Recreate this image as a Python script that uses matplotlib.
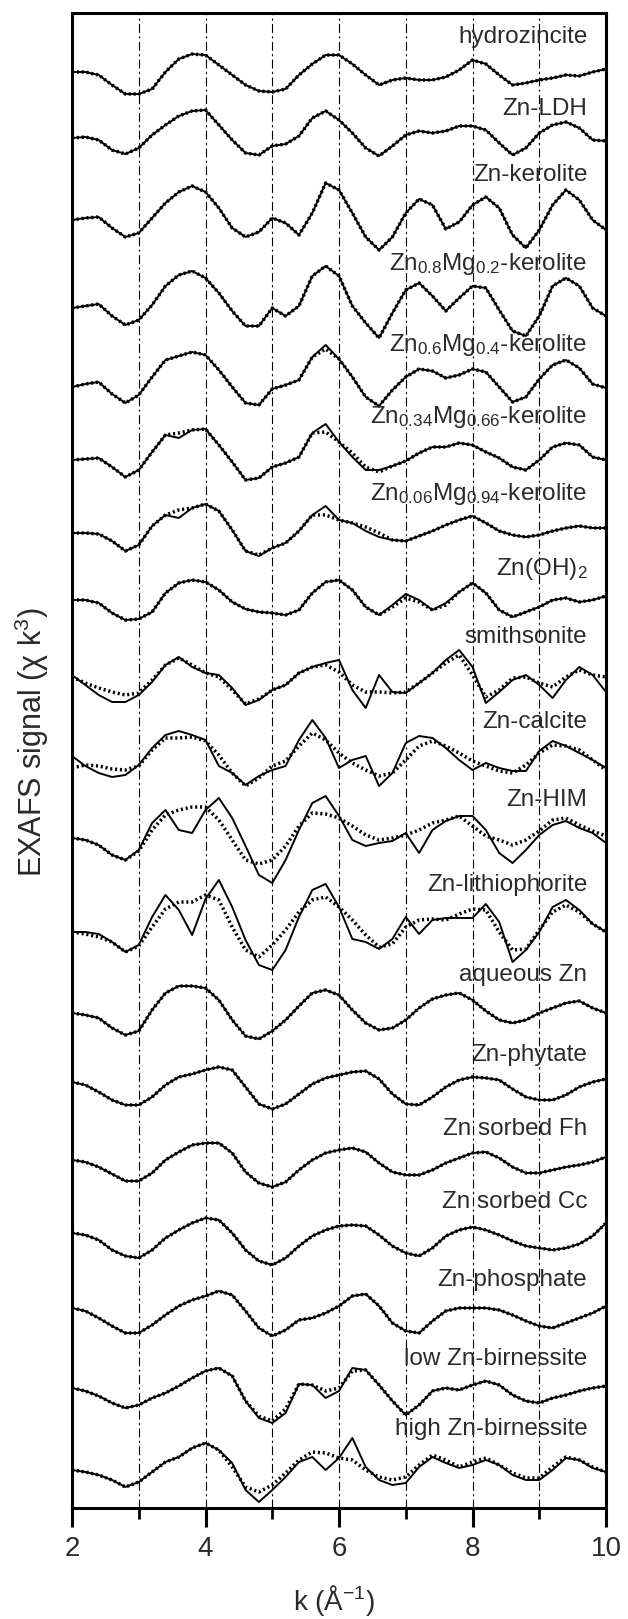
import numpy as np
import matplotlib
matplotlib.use("Agg")
import matplotlib.pyplot as plt

plt.rcParams['font.family'] = ['Liberation Sans', 'DejaVu Sans']
plt.rcParams['mathtext.default'] = 'regular'

# k grid the curves were read on (A^-1)
k = np.round(np.arange(2.0, 10.01, 0.2), 1)

names = ['hydrozincite', 'Zn-LDH', 'Zn-kerolite',
         'Zn$_{0.8}$Mg$_{0.2}$-kerolite', 'Zn$_{0.6}$Mg$_{0.4}$-kerolite',
         'Zn$_{0.34}$Mg$_{0.66}$-kerolite', 'Zn$_{0.06}$Mg$_{0.94}$-kerolite',
         'Zn(OH)$_2$', 'smithsonite', 'Zn-calcite', 'Zn-HIM', 'Zn-lithiophorite',
         'aqueous Zn', 'Zn-phytate', 'Zn sorbed Fh', 'Zn sorbed Cc',
         'Zn-phosphate', 'low Zn-birnessite', 'high Zn-birnessite']

# chi*k^3 (arbitrary units), solid line and dotted line
hydrozincite = [0, 0, -3, -13, -22, -22, -17, 0, 13, 18, 17, 7, -3, -13, -19, -20, -17, -3, 8, 17, 17,
                8, -3, -13, -8, -6, -8, -8, -5, 2, 12, 8, -3, -13, -11, -8, -6, -3, -4, 0, 3]
hydrozincite_fit = hydrozincite
zn_ldh = [0, 1, -2, -12, -16, -10, 3, 13, 22, 27, 28, 13, -2, -15, -17, -8, -6, 2, 20, 27, 18,
          5, -10, -18, -8, 3, 7, 5, 7, 12, 12, 8, -5, -17, -10, 5, 13, 16, 10, -2, -3]
zn_ldh_fit = zn_ldh
zn_kerolite = [0, 2, 3, -8, -17, -13, 2, 17, 28, 34, 28, 12, -8, -17, -12, 2, -3, -15, 7, 37, 30,
               7, -17, -30, -17, 7, 21, 15, -9, -2, 15, 23, 12, -15, -28, -10, 15, 30, 20, 0, -10]
zn_kerolite_fit = zn_kerolite
zn08 = [0, 2, 4, -8, -17, -12, 3, 22, 33, 37, 30, 15, -3, -18, -18, 0, -8, 2, 32, 42, 32,
        2, -15, -30, -5, 18, 25, 12, -3, 10, 22, 20, -2, -23, -28, -8, 22, 30, 22, 0, -8]
zn08_fit = zn08
zn06 = [0, 3, 5, -7, -16, -8, 10, 27, 31, 35, 32, 17, 0, -16, -18, -2, 2, 7, 30, 42, 28,
        10, -10, -19, -3, 10, 18, 16, 9, 12, 18, 15, 0, -15, -10, 8, 22, 27, 19, 3, -1]
zn06_fit = [0, 3, 5, -7, -16, -8, 10, 27, 31, 35, 32, 17, 0, -16, -18, -2, 2, 7, 30, 38, 28,
            10, -10, -19, -3, 10, 18, 16, 9, 12, 18, 15, 0, -15, -10, 8, 22, 27, 19, 3, -1]
zn034 = [0, 1, 2, -7, -17, -10, 8, 25, 22, 30, 31, 15, -2, -20, -18, -7, -3, 3, 27, 36, 18,
         3, -10, -10, -6, -1, 7, 13, 13, 17, 15, 8, 2, -7, -10, 0, 13, 17, 15, 3, 0]
zn034_fit = [0, 1, 2, -7, -17, -10, 8, 25, 27, 30, 31, 15, -2, -20, -18, -7, -3, 3, 27, 28, 18,
             7, -7, -12, -6, -1, 7, 13, 13, 17, 15, 8, 2, -7, -10, 0, 13, 17, 15, 3, 0]
zn006 = [0, 0, -1, -8, -18, -12, 7, 18, 15, 25, 29, 22, 3, -18, -23, -15, -10, 2, 18, 27, 13,
         10, 2, -4, -7, -8, -3, 2, 8, 13, 17, 10, 2, -2, -4, -2, 2, 5, 7, 5, 5]
zn006_fit = [0, 0, -1, -8, -18, -12, 7, 18, 23, 25, 29, 22, 3, -18, -22, -15, -10, 2, 18, 18, 13,
             10, 6, 0, -7, -8, -3, 2, 8, 13, 17, 10, 2, -2, -4, -2, 2, 5, 7, 5, 5]
zn_oh2 = [0, 0, -3, -13, -20, -19, -12, 7, 17, 20, 18, 10, -2, -9, -12, -13, -15, -10, 7, 18, 20,
          10, -7, -15, -5, 6, 0, -10, -3, 8, 17, 7, -10, -17, -12, -7, 0, 2, -2, 0, 4]
zn_oh2_fit = [0, 0, -3, -13, -20, -19, -12, 7, 17, 20, 18, 10, -2, -9, -12, -13, -15, -10, 7, 18, 20,
              10, -7, -15, -7, 2, -2, -10, -5, 8, 17, 7, -10, -17, -12, -7, 0, 2, -2, 0, 4]
smithsonite = [0, -10, -20, -27, -27, -20, -7, 10, 18, 8, 2, 0, -13, -30, -25, -15, -10, 2, 8, 12, 15,
               -15, -33, 0, -17, -18, -8, 2, 15, 25, 8, -28, -17, -5, 0, -10, -23, -5, 8, 0, -17]
smithsonite_fit = [-2, -8, -13, -17, -20, -18, -5, 10, 17, 10, 2, -2, -15, -29, -24, -15, -10, 2, 8, 10, 3,
                   -10, -17, -17, -18, -17, -8, 2, 12, 20, 0, -22, -15, -3, -2, -8, -12, -2, 5, 0, -2]
zn_calcite = [12, 2, -5, -9, -7, 3, 20, 33, 37, 33, 28, 2, -5, -17, -8, -2, 2, 28, 48, 30, 0,
              8, 12, -18, -5, 25, 32, 30, 20, 8, -2, 5, 0, -3, -3, 17, 27, 22, 15, 8, 0]
zn_calcite_fit = [0, 3, 2, -1, -2, 2, 18, 30, 30, 31, 27, 13, -5, -18, -10, 2, 7, 22, 35, 28, 15,
                  5, -2, -8, -5, 8, 22, 27, 22, 15, 7, 2, -3, -5, 3, 15, 23, 22, 18, 8, -2]
zn_him = [0, -2, -7, -17, -22, -12, 15, 28, 8, 5, 28, 40, 20, -8, -37, -45, -22, 8, 35, 42, 22,
          -2, -8, -5, -3, 5, -15, 8, 17, 22, 22, 8, -15, -25, -12, 3, 13, 17, 10, 5, -5]
zn_him_fit = [0, -2, -7, -17, -22, -13, 8, 23, 28, 31, 31, 18, -2, -22, -26, -22, -8, 12, 25, 24, 20,
              12, 3, -2, 0, 3, 8, 15, 18, 22, 12, 2, -2, -7, -2, 7, 18, 20, 13, 7, 2]
zn_lith = [0, 0, -2, -10, -20, -13, 15, 37, 22, -3, 33, 52, 25, -8, -33, -38, -18, 15, 42, 48, 25,
           -7, -10, -17, -7, 15, -2, 12, 14, 14, 14, 28, 10, -30, -18, 0, 25, 32, 22, 8, 0]
zn_lith_fit = [0, -2, -5, -10, -20, -14, 5, 23, 30, 30, 37, 32, 5, -18, -25, -13, 2, 20, 32, 35, 25,
               12, -3, -15, -12, 5, 12, 13, 12, 18, 23, 22, 0, -18, -17, 2, 20, 27, 20, 8, 0]
aqueous = [0, -2, -5, -15, -22, -18, 3, 20, 27, 27, 25, 13, -7, -23, -26, -18, -7, 7, 20, 23, 18,
           3, -10, -17, -15, -7, 5, 14, 18, 20, 13, 2, -7, -10, -7, 0, 5, 10, 12, 5, 0]
aqueous_fit = aqueous
phytate = [0, -3, -10, -18, -23, -23, -15, -3, 5, 8, 12, 15, 12, -5, -22, -27, -22, -12, -2, 4, 7,
           10, 11, 3, -12, -22, -23, -15, -5, 2, 5, 4, 2, -7, -15, -18, -18, -13, -5, 0, 3]
phytate_fit = phytate
sorbed_fh = [0, -2, -7, -14, -21, -21, -13, 0, 8, 15, 17, 17, 7, -12, -23, -27, -22, -10, 0, 7, 10,
             12, 8, -3, -12, -15, -15, -10, -3, 2, 7, 8, 2, -7, -13, -13, -10, -7, -5, -2, 3]
sorbed_fh_fit = sorbed_fh
sorbed_cc = [0, -2, -7, -17, -23, -25, -17, -5, 3, 10, 15, 13, 0, -17, -28, -32, -25, -13, -3, 3, 7,
             8, 7, -2, -13, -20, -23, -15, -3, 3, 6, 3, -2, -8, -13, -15, -17, -15, -11, -3, 10]
sorbed_cc_fit = sorbed_cc
phosphate = [0, -3, -10, -18, -25, -25, -17, -7, 2, 8, 12, 17, 13, -3, -20, -28, -22, -12, -10, -5, 2,
             12, 14, 2, -15, -23, -25, -13, -3, 0, 0, 0, -2, -7, -13, -18, -20, -15, -10, -5, 2]
phosphate_fit = phosphate
low_birn = [0, -3, -8, -15, -20, -17, -10, -5, 2, 10, 17, 20, 12, -13, -30, -35, -25, 4, 3, -10, -3,
            20, 18, 3, -13, -27, -17, -3, 0, -2, 3, 7, 3, -7, -13, -15, -10, -7, -3, 0, 2]
low_birn_fit = [0, -3, -8, -15, -20, -17, -10, -5, 2, 10, 17, 20, 12, -13, -28, -33, -21, 4, 3, -3, 0,
                17, 18, 3, -13, -27, -17, -3, 0, -2, 3, 7, 3, -7, -13, -15, -10, -7, -3, 0, 2]
high_birn = [0, -2, -5, -10, -17, -12, -2, 8, 13, 22, 27, 20, 7, -20, -32, -20, -7, 8, 13, 0, 12,
             32, 3, -10, -15, -13, 3, 13, 7, 2, 5, 10, 5, -5, -10, -10, 0, 12, 10, 2, -2]
high_birn_fit = [0, -2, -5, -10, -17, -12, -2, 8, 13, 22, 27, 20, 3, -17, -22, -15, -3, 10, 18, 17, 12,
                 10, 0, -7, -10, -7, 5, 15, 10, 3, 8, 12, 5, -3, -8, -8, 3, 13, 10, 3, -2]

solid = [hydrozincite, zn_ldh, zn_kerolite, zn08, zn06, zn034, zn006, zn_oh2, smithsonite,
         zn_calcite, zn_him, zn_lith, aqueous, phytate, sorbed_fh, sorbed_cc, phosphate,
         low_birn, high_birn]
dotted = [hydrozincite_fit, zn_ldh_fit, zn_kerolite_fit, zn08_fit, zn06_fit, zn034_fit,
          zn006_fit, zn_oh2_fit, smithsonite_fit, zn_calcite_fit, zn_him_fit, zn_lith_fit,
          aqueous_fit, phytate_fit, sorbed_fh_fit, sorbed_cc_fit, phosphate_fit,
          low_birn_fit, high_birn_fit]

# layout: vertical stacking (distance from top of plot) of each curve and its label
baseline = [72, 138, 220, 308, 387, 460, 533, 600, 675, 768, 838, 932, 1013, 1082,
            1160, 1233, 1308, 1388, 1470]
label_row = [43, 115, 181, 270, 351, 423, 500, 575, 643, 728, 806, 891, 981, 1061,
             1135, 1208, 1286, 1365, 1435]
bottom = 1508

fig = plt.figure(figsize=(6.28, 16.19), dpi=100)
ax = fig.add_axes([72 / 628, 1 - 1508 / 1619, 534 / 628, 1495 / 1619])

for i in range(len(names)):
    off = bottom - baseline[i]
    ax.plot(k, off + np.array(solid[i]), color='black', lw=1.4, zorder=3,
            solid_joinstyle='round')
    ax.plot(k, off + np.array(dotted[i]), color='black', lw=2.5,
            linestyle=(0, (0.6, 0.8)), zorder=3)
    ax.text(9.72, bottom - label_row[i], names[i], ha='right', va='baseline',
            fontsize=17.5, color='#2a2a2a', zorder=4)

for g in range(3, 10):
    ax.axvline(g, color='black', lw=0.8, linestyle=(0, (8, 3, 2, 3)), zorder=1)

ax.set_xlim(2, 10)
ax.set_ylim(0, bottom - 13)
ax.set_xticks([2, 4, 6, 8, 10])
ax.set_xticks([3, 5, 7, 9], minor=True)
ax.set_yticks([])
ax.tick_params(axis='x', which='major', direction='out', length=14, width=2.2,
               labelsize=20, pad=6, colors='black', labelcolor='#2a2a2a')
ax.tick_params(axis='x', which='minor', direction='out', length=8, width=2.0)
for s in ax.spines.values():
    s.set_linewidth(2.2)

fig.text(334 / 628, 1 - 1600 / 1619, 'k (Å$^{-1}$)', ha='center', va='center',
         fontsize=20, color='#2a2a2a')
fig.text(32 / 628, 1 - 742 / 1619, 'EXAFS signal (χ k$^{3}$)', ha='center', va='center',
         rotation=90, fontsize=22, color='#2a2a2a')

fig.savefig('out.png', dpi=100)
